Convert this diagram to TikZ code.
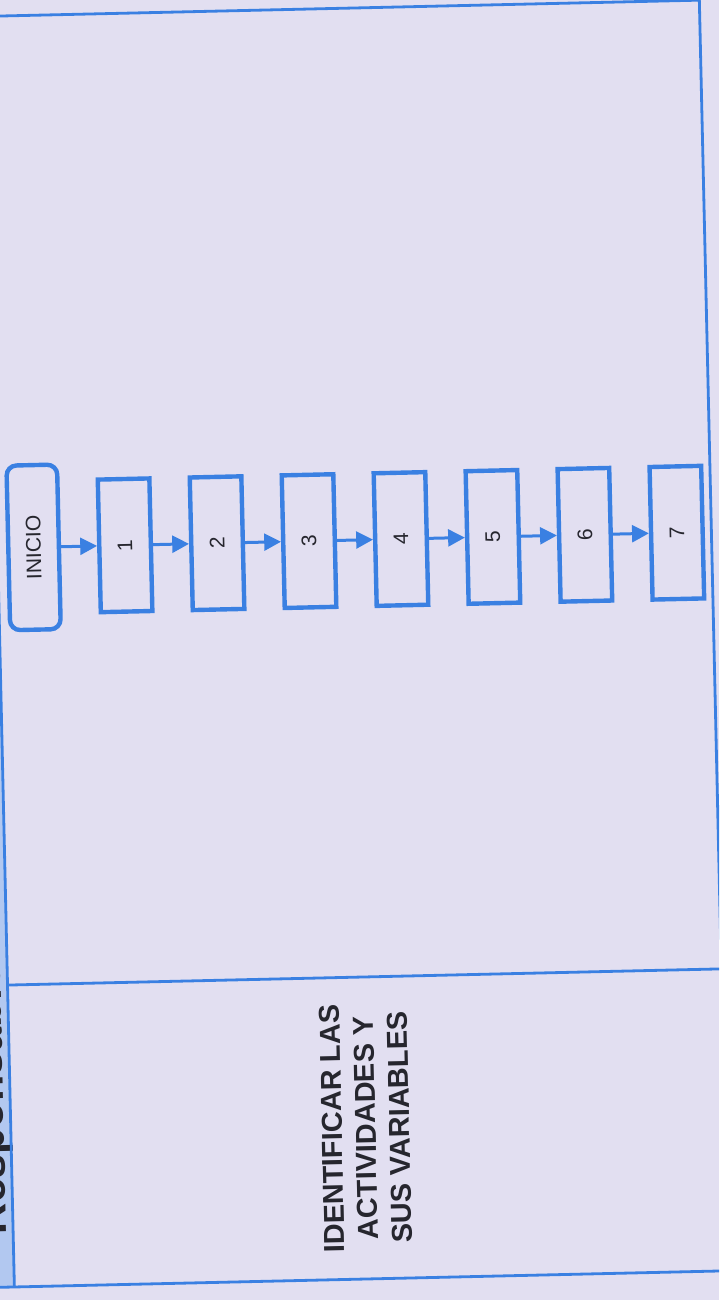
\documentclass[tikz,border=0pt]{standalone}
\usepackage{graphicx}
\usepackage{fontspec}
\setmainfont{Liberation Sans}
\usetikzlibrary{arrows.meta, positioning}
\definecolor{mylav}{RGB}{226,223,241}
\definecolor{myblue}{RGB}{58,128,226}
\definecolor{myhdr}{RGB}{178,200,240}
\definecolor{mydark}{RGB}{38,38,46}
\tikzset{
  startblock/.style={rectangle, draw=myblue, line width=1.1mm, rounded corners=2.5mm,
    minimum width=1.265cm, minimum height=4.115cm, inner sep=0pt,
    font=\fontsize{15}{18}\selectfont, text=mydark},
  block/.style={rectangle, draw=myblue, line width=1.1mm,
    minimum width=1.29cm, minimum height=3.315cm, inner sep=0pt,
    font=\fontsize{15}{18}\selectfont, text=mydark},
  arrow/.style={-{Triangle[length=4.2mm, width=4.2mm]}, line width=0.75mm, color=myblue},
  frameline/.style={line width=0.7mm, color=myblue}
}

\begin{document}
\begin{tikzpicture}
  % Page
  \useasboundingbox (0,0) rectangle (17.975,-32.5);
  \clip (0,0) rectangle (17.975,-32.5);
  \fill[mylav] (0,0) rectangle (17.975,-32.5);

  \begin{scope}[rotate around={1.3:(9,-16.25)}, transform shape, node distance=0.9cm]
    % Header column
    \fill[myhdr] (-1.5,-0.2) rectangle (0,-31.975);
    \node[rotate=90, anchor=base, text=mydark,
      font=\bfseries\fontsize{30.8}{36}\selectfont] (resp) at (-0.17,-27.1) {Responsable:};

    % Frame
    \draw[frameline] (-1.5,-0.2) -- (17.85,-0.2) -- (17.85,-31.975) -- (-1.5,-31.975);
    \draw[frameline] (0,-0.2) -- (0,-31.975);
    \draw[frameline] (0,-24.425) -- (17.85,-24.425);

    % Flow
    \node[startblock] (inicio) at (0.9,-13.5) {\rotatebox{90}{INICIO}};
    \node[block, right=of inicio] (p1) {\rotatebox{90}{1}};
    \node[block, right=of p1] (p2) {\rotatebox{90}{2}};
    \node[block, right=of p2] (p3) {\rotatebox{90}{3}};
    \node[block, right=of p3] (p4) {\rotatebox{90}{4}};
    \node[block, right=of p4] (p5) {\rotatebox{90}{5}};
    \node[block, right=of p5] (p6) {\rotatebox{90}{6}};
    \node[block, right=of p6] (p7) {\rotatebox{90}{7}};

    \draw[arrow] (inicio) -- (p1);
    \draw[arrow] (p1) -- (p2);
    \draw[arrow] (p2) -- (p3);
    \draw[arrow] (p3) -- (p4);
    \draw[arrow] (p4) -- (p5);
    \draw[arrow] (p5) -- (p6);
    \draw[arrow] (p6) -- (p7);

    % Activity name
    \node[rotate=90, align=center, text=mydark,
      font=\bfseries\fontsize{20.5}{24}\selectfont] (titulo) at (8.875,-28.2)
      {IDENTIFICAR LAS\\ACTIVIDADES Y\\SUS VARIABLES};
  \end{scope}
\end{tikzpicture}
\end{document}
